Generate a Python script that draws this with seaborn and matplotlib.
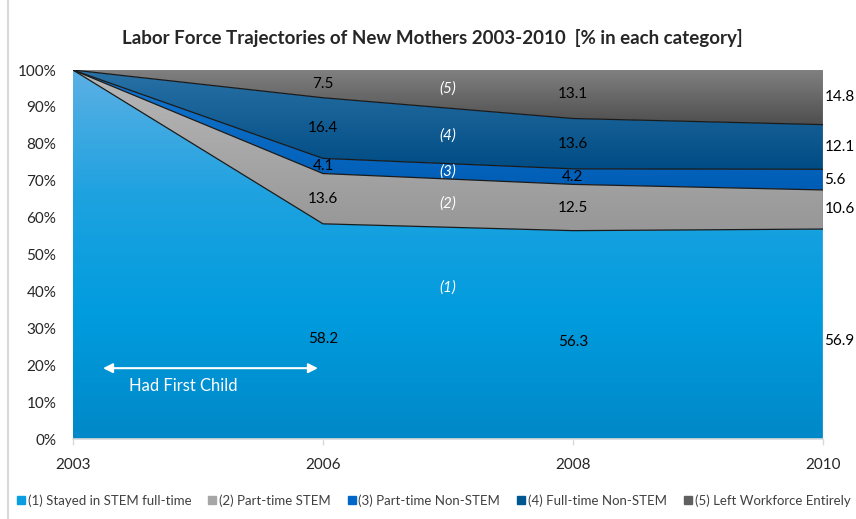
import numpy as np
import pandas as pd
import seaborn as sns
import matplotlib.pyplot as plt
from matplotlib.colors import LinearSegmentedColormap
from matplotlib.lines import Line2D

# ---------------- DATA ----------------
years = ["2003", "2006", "2008", "2010"]
stem_full = [100.0, 58.2, 56.3, 56.9]
part_stem = [0.0, 13.6, 12.5, 10.6]
part_nonstem = [0.0, 4.1, 4.2, 5.6]
full_nonstem = [0.0, 16.4, 13.6, 12.1]
left_work = [0.0, 7.5, 13.1, 14.8]

series_names = ["(1) Stayed in STEM full-time", "(2) Part-time STEM",
                "(3) Part-time Non-STEM", "(4) Full-time Non-STEM",
                "(5) Left Workforce Entirely"]
short_names = ["(1)", "(2)", "(3)", "(4)", "(5)"]

# ---------------- STYLE ----------------
sns.set_theme(style="white")
plt.rcParams["font.family"] = ["Lato", "DejaVu Sans"]

# gradient colours (bottom -> top) per band
grads = [["#0088c8", "#009cde", "#1fa2e0", "#5cb0e4"],
         ["#979797", "#b8b8b8"],
         ["#005db6", "#1478d0"],
         ["#004c84", "#2a72a6"],
         ["#4e4e4e", "#808080"]]
legend_cols = ["#0a9ee0", "#a6a6a6", "#0066c8", "#005690", "#606060"]

# ---------------- STACK ----------------
raw = np.array([stem_full, part_stem, part_nonstem, full_nonstem, left_work])
pct = raw / raw.sum(axis=0) * 100
tops = np.cumsum(pct, axis=0)
bottoms = np.vstack([np.zeros(len(years)), tops[:-1]])
x = np.arange(len(years))

fig = plt.figure(figsize=(8.56, 5.19), dpi=100)
ax = fig.add_axes([0.0853, 0.1541, 0.876, 0.711])

for i in range(len(series_names)):
    lo, hi = bottoms[i], tops[i]
    poly = ax.fill_between(x, lo, hi, facecolor="none", edgecolor="none")
    cmap = LinearSegmentedColormap.from_list("g%d" % i, grads[i])
    grad = np.linspace(0, 1, 256).reshape(-1, 1)
    im = ax.imshow(grad, extent=[x[0], x[-1], lo.min(), hi.max()],
                   aspect="auto", cmap=cmap, origin="lower", zorder=1)
    im.set_clip_path(poly.get_paths()[0], transform=ax.transData)

# boundary lines
lines = pd.DataFrame({
    "x": np.tile(x, 4),
    "y": np.concatenate([tops[0], tops[1], tops[2], tops[3]]),
    "band": np.repeat(["b1", "b2", "b3", "b4"], len(x)),
})
sns.lineplot(data=lines, x="x", y="y", hue="band",
             palette=["#1a1a1a"] * 4, linewidth=0.9, legend=False,
             ax=ax, zorder=3)
ax.plot([x[-1], x[-1]], [tops[0][-1], 100], color="#1a1a1a", lw=0.9, zorder=3)

ax.set_xlim(x[0], x[-1])
ax.set_ylim(0, 100)
ax.set_xlabel("")
ax.set_ylabel("")
ax.set_xticks(x)
ax.set_xticklabels(years, fontsize=11)
ax.set_yticks(np.arange(0, 101, 10))
ax.set_yticklabels([f"{v}%" for v in range(0, 101, 10)], fontsize=11)
ax.tick_params(axis="y", length=0, pad=12)
ax.tick_params(axis="x", length=4, width=1, color="#d9d9d9", direction="out",
               pad=10, bottom=True)
for s in ["top", "right", "left"]:
    ax.spines[s].set_visible(False)
ax.spines["bottom"].set_color("#d9d9d9")
ax.spines["bottom"].set_linewidth(1.2)
ax.spines["bottom"].set_zorder(5)

# value labels
for j in range(1, len(years)):
    for i in range(len(series_names)):
        mid = (bottoms[i][j] + tops[i][j]) / 2
        if i == 0:
            mid -= 2
        if j == len(years) - 1:
            ax.text(x[j] + 0.006, mid, f"{raw[i][j]:.1f}", ha="left",
                    va="center", fontsize=11, color="black", clip_on=False)
        else:
            ax.text(x[j], mid, f"{raw[i][j]:.1f}", ha="center", va="center",
                    fontsize=11, color="black")

# series tags between 2006 and 2008
for i in range(len(series_names)):
    if i == 0:
        ym = 41
    else:
        ym = ((bottoms[i][1] + bottoms[i][2]) / 2 + (tops[i][1] + tops[i][2]) / 2) / 2
    ax.text(1.5, ym, short_names[i], ha="center", va="center", fontsize=11,
            color="white", style="italic")

# had first child arrow
ax.annotate("", xy=(0.12, 19.2), xytext=(0.98, 19.2),
            arrowprops=dict(arrowstyle="<|-|>", color="white", lw=1.5,
                            mutation_scale=14, shrinkA=0, shrinkB=0))
ax.text(0.44, 14.5, "Had First Child", ha="center", va="center",
        fontsize=12, color="white")

fig.suptitle("Labor Force Trajectories of New Mothers 2003-2010  [% in each category]",
             x=0.505, y=0.945, fontsize=13.5, fontweight="bold")

handles = [Line2D([0], [0], marker="s", ls="", markersize=6,
                  markerfacecolor=c, markeredgecolor=c) for c in legend_cols]
fig.legend(handles, series_names, loc="center", bbox_to_anchor=(0.506, 0.036),
           ncol=5, frameon=False, fontsize=9.5, handletextpad=0.1,
           columnspacing=1.2, handlelength=0.8, labelcolor="#404040")

fig.add_artist(Line2D([8 / 856, 8 / 856], [0, 1], color="#d9d9d9", lw=1.5,
                      transform=fig.transFigure))

fig.savefig("out.png", dpi=100)
